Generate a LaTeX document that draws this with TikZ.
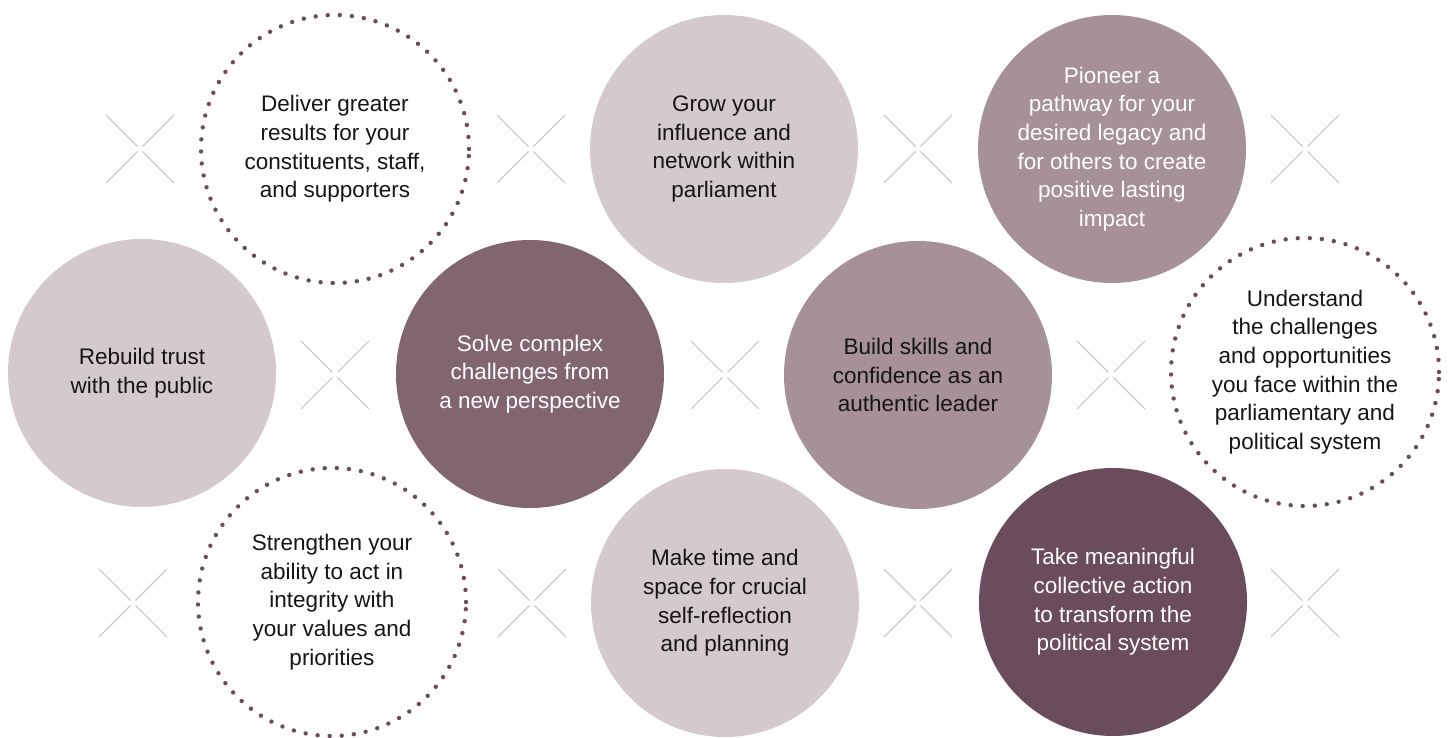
\documentclass[tikz,border=0pt]{standalone}
\usepackage{fontspec}
\setmainfont{Liberation Sans}
\definecolor{cLight}{HTML}{D4CACE}
\definecolor{cMid}{HTML}{A69198}
\definecolor{cDark}{HTML}{816571}
\definecolor{cDeep}{HTML}{6B4C5C}
\definecolor{cCross}{HTML}{D2C6CB}
\definecolor{cText}{HTML}{151515}
\begin{document}
\begin{tikzpicture}[x=1pt,y=-1pt,
 bubble/.style={circle, minimum size=268pt, inner sep=0pt, align=center, font=\fontsize{22.5}{28.7}\selectfont},
 lightb/.style={bubble, fill=cLight, text=cText},
 midb/.style={bubble, fill=cMid, text=white},
 middark/.style={bubble, fill=cMid, text=cText},
 darkb/.style={bubble, fill=cDark, text=white},
 deepb/.style={bubble, fill=cDeep, text=white},
 dotb/.style={bubble, draw=cDeep, line width=4.4pt, dash pattern=on 0pt off 12.1pt, line cap=round, text=cText},
 crossline/.style={draw=cCross, line width=1.3pt},
 xmark/.pic={\draw[crossline] (-34,-34) -- (-2.5,-2.5) (34,-34) -- (2.5,-2.5) (-34,34) -- (-2.5,2.5) (34,34) -- (2.5,2.5);}]
\useasboundingbox (0,0) rectangle (1451,738);
% row 1
\node[dotb] (deliver) at (335,149) {Deliver greater\\results for your\\constituents, staff,\\and supporters};
\node[lightb] (grow) at (724,149) {Grow your\\influence and\\network within\\parliament};
\node[midb] (pioneer) at (1112,149) {Pioneer a\\pathway for your\\desired legacy and\\for others to create\\positive lasting\\impact};
% row 2
\node[lightb] (rebuild) at (142,373) {Rebuild trust\\with the public};
\node[darkb] (solve) at (530,374) {Solve complex\\challenges from\\a new perspective};
\node[middark] (build) at (918,375) {Build skills and\\confidence as an\\authentic leader};
\node[dotb] (understand) at (1305,372) {Understand\\the challenges\\and opportunities\\you face within the\\parliamentary and\\political system};
% row 3
\node[dotb] (strengthen) at (332,602) {Strengthen your\\ability to act in\\integrity with\\your values and\\priorities};
\node[lightb] (maketime) at (725,603) {Make time and\\space for crucial\\self-reflection\\and planning};
\node[deepb] (take) at (1113,602) {Take meaningful\\collective action\\to transform the\\political system};
% crosses
\pic (xa) at (140,149) {xmark};
\pic (xb) at (531,149) {xmark};
\pic (xc) at (918,149) {xmark};
\pic (xd) at (1305,149) {xmark};
\pic (xe) at (335,375) {xmark};
\pic (xf) at (725,375) {xmark};
\pic (xg) at (1111,375) {xmark};
\pic (xh) at (133,603) {xmark};
\pic (xi) at (532,603) {xmark};
\pic (xj) at (918,603) {xmark};
\pic (xk) at (1305,603) {xmark};
\end{tikzpicture}
\end{document}
